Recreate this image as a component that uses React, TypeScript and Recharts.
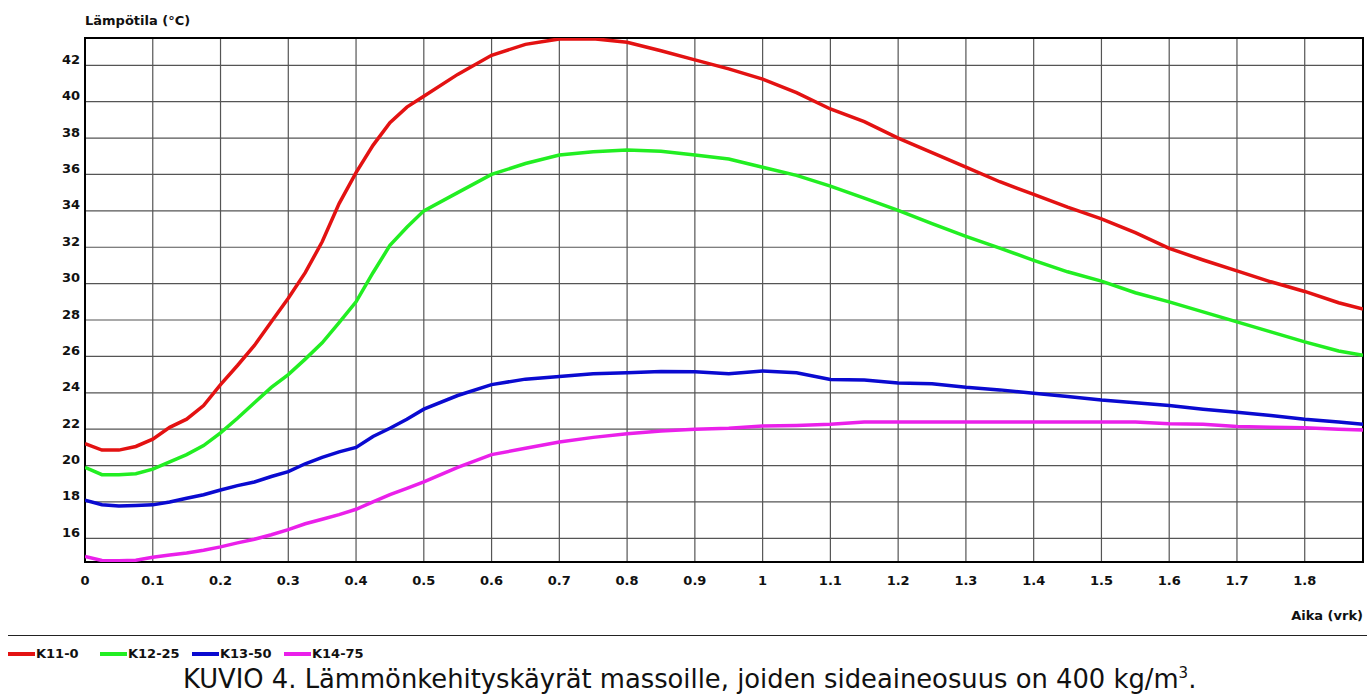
import React from "react";
import {
  LineChart,
  Line,
  XAxis,
  YAxis,
  CartesianGrid,
  ReferenceArea,
  Legend,
} from "recharts";

// aika (vrk)
const time = [
  0, 0.025, 0.05, 0.075, 0.1, 0.125, 0.15, 0.175, 0.2, 0.225, 0.25, 0.275, 0.3,
  0.325, 0.35, 0.375, 0.4, 0.425, 0.45, 0.475, 0.5, 0.55, 0.6, 0.65, 0.7, 0.75,
  0.8, 0.85, 0.9, 0.95, 1.0, 1.05, 1.1, 1.15, 1.2, 1.25, 1.3, 1.35, 1.4, 1.45,
  1.5, 1.55, 1.6, 1.65, 1.7, 1.75, 1.8, 1.85, 1.886,
];

const k11 = [
  21.2, 20.85, 20.85, 21.05, 21.45, 22.1, 22.55, 23.3, 24.45, 25.5, 26.6, 27.9,
  29.2, 30.6, 32.3, 34.4, 36.1, 37.6, 38.85, 39.7, 40.3, 41.5, 42.55, 43.15,
  43.45, 43.46, 43.27, 42.8, 42.3, 41.8, 41.24, 40.5, 39.6, 38.9, 38.0, 37.2,
  36.4, 35.6, 34.9, 34.2, 33.56, 32.8, 31.94, 31.3, 30.7, 30.1, 29.57, 28.95,
  28.6,
];

const k12 = [
  19.9, 19.5, 19.5, 19.55, 19.8, 20.2, 20.6, 21.1, 21.8, 22.6, 23.45, 24.3,
  25.0, 25.85, 26.75, 27.85, 29.0, 30.6, 32.1, 33.1, 34.0, 35.0, 36.0, 36.6,
  37.07, 37.25, 37.35, 37.27, 37.07, 36.85, 36.4, 35.95, 35.36, 34.7, 34.03,
  33.3, 32.6, 31.95, 31.28, 30.65, 30.14, 29.5, 29.0, 28.45, 27.9, 27.35, 26.8,
  26.3, 26.06,
];

const k13 = [
  18.1, 17.85, 17.78, 17.8, 17.84, 18.0, 18.2, 18.4, 18.66, 18.9, 19.1, 19.4,
  19.67, 20.1, 20.45, 20.75, 21.0, 21.6, 22.05, 22.55, 23.1, 23.85, 24.45,
  24.75, 24.9, 25.05, 25.1, 25.17, 25.15, 25.05, 25.2, 25.1, 24.73, 24.7,
  24.54, 24.5, 24.3, 24.16, 23.97, 23.8, 23.6, 23.45, 23.3, 23.1, 22.93, 22.75,
  22.55, 22.4, 22.27,
];

const k14 = [
  15.0, 14.78, 14.77, 14.8, 14.96, 15.08, 15.2, 15.35, 15.53, 15.75, 15.95,
  16.2, 16.48, 16.8, 17.05, 17.3, 17.6, 18.0, 18.4, 18.75, 19.1, 19.9, 20.6,
  20.95, 21.3, 21.55, 21.75, 21.9, 22.0, 22.05, 22.17, 22.2, 22.27, 22.4, 22.4,
  22.4, 22.4, 22.4, 22.4, 22.4, 22.4, 22.4, 22.3, 22.27, 22.15, 22.1, 22.08,
  22.0, 21.95,
];

const xTicks = [
  0, 0.1, 0.2, 0.3, 0.4, 0.5, 0.6, 0.7, 0.8, 0.9, 1, 1.1, 1.2, 1.3, 1.4, 1.5,
  1.6, 1.7, 1.8,
];
const yTicks = [16, 18, 20, 22, 24, 26, 28, 30, 32, 34, 36, 38, 40, 42];

const xDomain = [0, 1.886];
const yDomain = [14.7, 43.5];

const data = time.map((t, i) => ({
  t,
  k11: k11[i],
  k12: k12[i],
  k13: k13[i],
  k14: k14[i],
}));

const FONT = '"DejaVu Sans", Verdana, sans-serif';

function XTick({ x, y, payload }: any) {
  return (
    <text
      x={x}
      y={y}
      textAnchor="middle"
      dominantBaseline="central"
      fontFamily={FONT}
      fontWeight="bold"
      fontSize={13}
      fill="#111"
    >
      {payload.value}
    </text>
  );
}

function YTick({ x, y, payload }: any) {
  return (
    <text
      x={x}
      y={y - 6}
      textAnchor="end"
      dominantBaseline="central"
      fontFamily={FONT}
      fontWeight="bold"
      fontSize={13}
      fill="#111"
    >
      {payload.value}
    </text>
  );
}

function LegendContent({ payload }: any) {
  return (
    <div style={{ display: "flex", fontFamily: FONT, fontWeight: "bold", fontSize: 13 }}>
      {(payload || []).map((entry: any) => (
        <div
          key={entry.value}
          style={{ width: 92, display: "flex", alignItems: "center" }}
        >
          <span
            style={{
              display: "inline-block",
              width: 27,
              height: 4,
              background: entry.color,
              marginRight: 1,
            }}
          />
          <span style={{ color: "#111" }}>{entry.value}</span>
        </div>
      ))}
    </div>
  );
}

export default function App() {
  return (
    <div
      style={{
        position: "absolute",
        left: 0,
        top: 0,
        width: 1367,
        height: 697,
        background: "#fff",
        overflow: "hidden",
      }}
    >
      <div
        style={{
          position: "absolute",
          left: 85,
          top: 13,
          fontFamily: FONT,
          fontWeight: "bold",
          fontSize: 13,
          color: "#111",
        }}
      >
        Lämpötila (°C)
      </div>

      <LineChart
        width={1367}
        height={697}
        data={data}
        margin={{ top: 38, right: 4, left: 25, bottom: 105 }}
      >
        <CartesianGrid stroke="#555" strokeWidth={1.2} />
        <XAxis
          dataKey="t"
          type="number"
          domain={xDomain}
          ticks={xTicks}
          allowDataOverflow
          axisLine={false}
          tickLine={false}
          tickSize={0}
          tickMargin={18}
          height={30}
          tick={<XTick />}
        />
        <YAxis
          type="number"
          domain={yDomain}
          ticks={yTicks}
          allowDataOverflow
          axisLine={false}
          tickLine={false}
          tickSize={5}
          tickMargin={0}
          width={60}
          tick={<YTick />}
        />
        <ReferenceArea
          x1={xDomain[0]}
          x2={xDomain[1]}
          y1={yDomain[0]}
          y2={yDomain[1]}
          fill="none"
          stroke="#000"
          strokeWidth={2}
        />
        <Line type="linear" dataKey="k11" name="K11-0" stroke="#e31212" strokeWidth={3.5} dot={false} isAnimationActive={false} />
        <Line type="linear" dataKey="k12" name="K12-25" stroke="#22ee22" strokeWidth={3.5} dot={false} isAnimationActive={false} />
        <Line type="linear" dataKey="k13" name="K13-50" stroke="#0a0ad0" strokeWidth={3.5} dot={false} isAnimationActive={false} />
        <Line type="linear" dataKey="k14" name="K14-75" stroke="#ea20ea" strokeWidth={3.5} dot={false} isAnimationActive={false} />
        <Legend
          layout="horizontal"
          verticalAlign="middle"
          align="center"
          content={<LegendContent />}
          wrapperStyle={{ top: 646, left: 8, width: 500, height: 18 }}
        />
      </LineChart>

      <div
        style={{
          position: "absolute",
          right: 4,
          top: 608,
          fontFamily: FONT,
          fontWeight: "bold",
          fontSize: 13,
          color: "#111",
        }}
      >
        Aika (vrk)
      </div>
      <div
        style={{
          position: "absolute",
          left: 8,
          right: 0,
          top: 635,
          height: 0,
          borderTop: "1.5px solid #222",
        }}
      />
      <div
        style={{
          position: "absolute",
          left: 183,
          top: 664,
          fontFamily: FONT,
          fontSize: 25.8,
          lineHeight: "30px",
          color: "#111",
          whiteSpace: "nowrap",
        }}
      >
        KUVIO 4. Lämmönkehityskäyrät massoille, joiden sideaineosuus on 400 kg/m
        <sup style={{ fontSize: 15, lineHeight: 0 }}>3</sup>.
      </div>
    </div>
  );
}
